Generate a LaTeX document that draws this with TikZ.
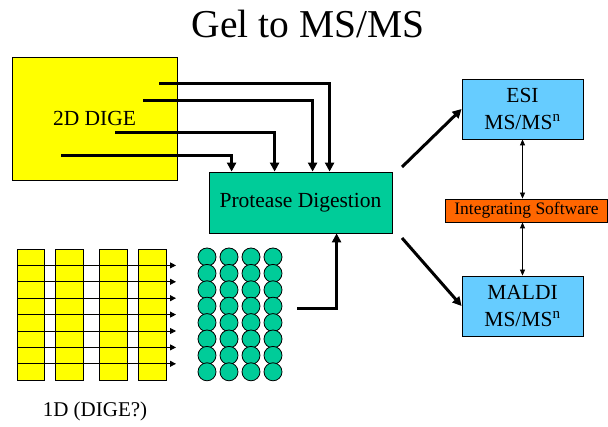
\documentclass[tikz,border=0pt]{standalone}
\usepackage{fontspec}
\setmainfont{Liberation Serif}
\usepackage{tikz}
\usetikzlibrary{arrows.meta}

\definecolor{digeyellow}{HTML}{FFFF00}
\definecolor{protgreen}{HTML}{00CC99}
\definecolor{msblue}{HTML}{66CCFF}
\definecolor{softorange}{HTML}{FF6600}

\begin{document}
\begin{tikzpicture}[x=1pt,y=-1pt,
    box/.style={draw,line width=0.8pt,inner sep=0pt,align=center,font=\fontsize{21.5}{27}\selectfont},
    flow/.style={line width=3pt,-{Triangle[length=9pt,width=9pt]}},
    link/.style={line width=0.8pt,{Triangle[length=6pt,width=5pt]}-{Triangle[length=6pt,width=5pt]}},
    lane/.style={draw,line width=0.8pt,fill=digeyellow},
    spot/.style={draw,line width=0.8pt,fill=protgreen,circle,minimum size=18pt,inner sep=0pt}]
                \useasboundingbox (0,0) rectangle (608,427);
                \node[font=\fontsize{39.5}{42}\selectfont] (title) at (308,24) {Gel to MS/MS};

                \node[box,fill=digeyellow,minimum width=165,minimum height=123] (dige) at (94.5,118.5) {2D DIGE};
                \node[box,fill=protgreen,minimum width=183,minimum height=61] (prot) at (300.5,202.5) {Protease Digestion};
                \node[box,fill=msblue,minimum width=121,minimum height=60] (esi) at (522.5,109) {ESI\\MS/MS\textsuperscript{n}};
                \node[box,fill=msblue,minimum width=121,minimum height=60] (maldi) at (522.5,306) {MALDI\\MS/MS\textsuperscript{n}};
                \node[box,fill=softorange,minimum width=162,minimum height=23,font=\fontsize{17.5}{20}\selectfont] (soft) at (526.5,210.5) {Integrating Software};

                % spots cut from the 2D gel
                \foreach \i/\x/\y/\dx in {1/159/84/121,2/143/101/104,3/115/133/66,4/61/156/23}{
                    \coordinate (d\i) at (\x,\y);
                    \draw[flow] (d\i) -| ([xshift=\dx]prot.north west);
                }

                % 1D lanes
                \foreach \a/\b [count=\k] in {17/44,55/83,99/127,138/166}{
                    \node[lane,minimum width=\b-\a,minimum height=131,inner sep=0pt] (lane\k) at ({(\a+\b)/2},314.5) {};
                }
                \foreach \r in {1,...,7}{
                    \coordinate (cut\r) at (17,{249+16.4*\r});
                    \draw[line width=0.8pt,-{Triangle[length=6pt,width=6pt]}] (cut\r) -- ++(159,0);
                }
                \foreach \c [count=\k] in {207,229,251,273}{
                    \foreach \r in {0,...,7}{
                        \node[spot] (s\k\r) at (\c,{257+16.4*\r}) {};
                    }
                }
                \coordinate (wells) at (297,309);
                \draw[flow] (wells) -| ([xshift=128]prot.south west);

                \coordinate (p1) at (402,167);
                \coordinate (p2) at (402,238);
                \draw[flow] (p1) -- (esi.west);
                \draw[flow] (p2) -- (maldi.west);
                \draw[link] (esi.south) -- (esi.south |- soft.north);
                \draw[link] (maldi.north |- soft.south) -- (maldi.north);

                \node[font=\fontsize{21}{24}\selectfont] (oned) at (95,411) {1D (DIGE?)};
            \end{tikzpicture}
\end{document}
